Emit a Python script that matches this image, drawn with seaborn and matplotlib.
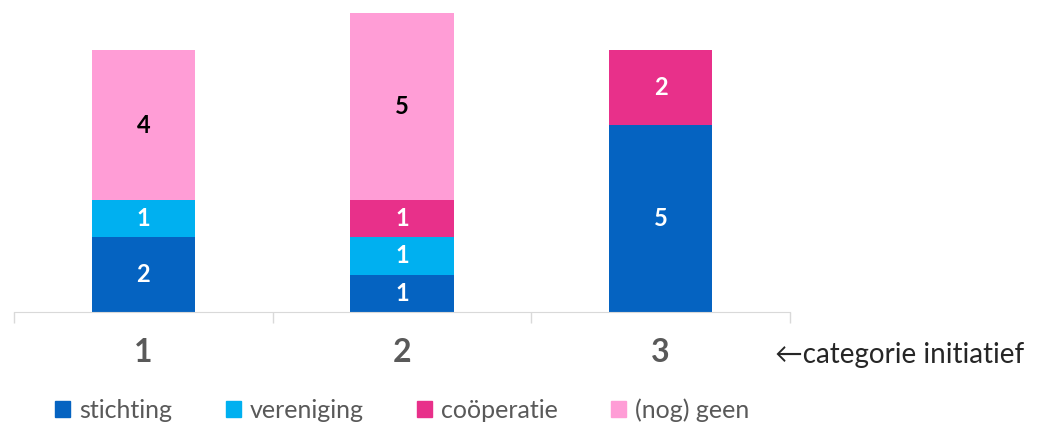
import numpy as np
import pandas as pd
import seaborn as sns
import matplotlib.pyplot as plt

# data
categories = ["1", "2", "3"]
series = ["stichting", "vereniging", "coöperatie", "(nog) geen"]
stichting = [2, 1, 5]
vereniging = [1, 1, 0]
cooperatie = [0, 1, 2]
nog_geen = [4, 5, 0]
colors = ["#0563C1", "#00B0F0", "#E8308A", "#FF9DD6"]
label_colors = ["white", "white", "white", "black"]

sns.set_style("white")
plt.rcParams['font.family'] = ['Lato', 'DejaVu Sans']

fig = plt.figure(figsize=(10.37, 4.25), dpi=100)
ax = fig.add_axes([14 / 1037, 113 / 425, 776 / 1037, 299 / 425])

values = np.array([stichting, vereniging, cooperatie, nog_geen])
cum = values.cumsum(axis=0)

# draw cumulative totals back to front so the stacks show
for i in range(len(series) - 1, -1, -1):
    df = pd.DataFrame({"cat": categories, "val": cum[i]})
    sns.barplot(data=df, x="cat", y="val", color=colors[i], width=0.4,
                saturation=1, ax=ax, linewidth=0, edgecolor="none")

# value labels
for i in range(len(series)):
    for j in range(len(categories)):
        v = values[i, j]
        if v == 0:
            continue
        ax.text(j, cum[i, j] - v / 2, str(v), ha="center", va="center",
                fontsize=17, fontweight="bold", color=label_colors[i])

ax.set_xlim(-0.5, 2.5)
ax.set_ylim(0, 8)
ax.set_xlabel("")
ax.set_ylabel("")
ax.set_yticks([])
for s in ["left", "right", "top"]:
    ax.spines[s].set_visible(False)
ax.spines["bottom"].set_color("#D9D9D9")
ax.set_xticks([-0.5, 0.5, 1.5, 2.5], minor=True)
ax.tick_params(axis="x", which="minor", length=8, color="#D9D9D9", width=1, direction="out", bottom=True)
ax.tick_params(axis="x", which="major", length=0, pad=19, labelsize=23, labelcolor="#595959")
for t in ax.get_xticklabels():
    t.set_fontweight("bold")

fig.text(775 / 1037, 70 / 425, "←categorie initiatief", fontsize=20, va="center", ha="left")

handles = [plt.Rectangle((0, 0), 1, 1, color=c) for c in colors]
fig.legend(handles, series, loc="center left", bbox_to_anchor=(55 / 1037, 0.035), ncol=4,
           frameon=False, fontsize=18, handlelength=0.6, handleheight=0.6,
           handletextpad=0.35, columnspacing=2.15, labelcolor="#595959",
           borderaxespad=0, borderpad=0)

fig.savefig("out.png", dpi=100)
